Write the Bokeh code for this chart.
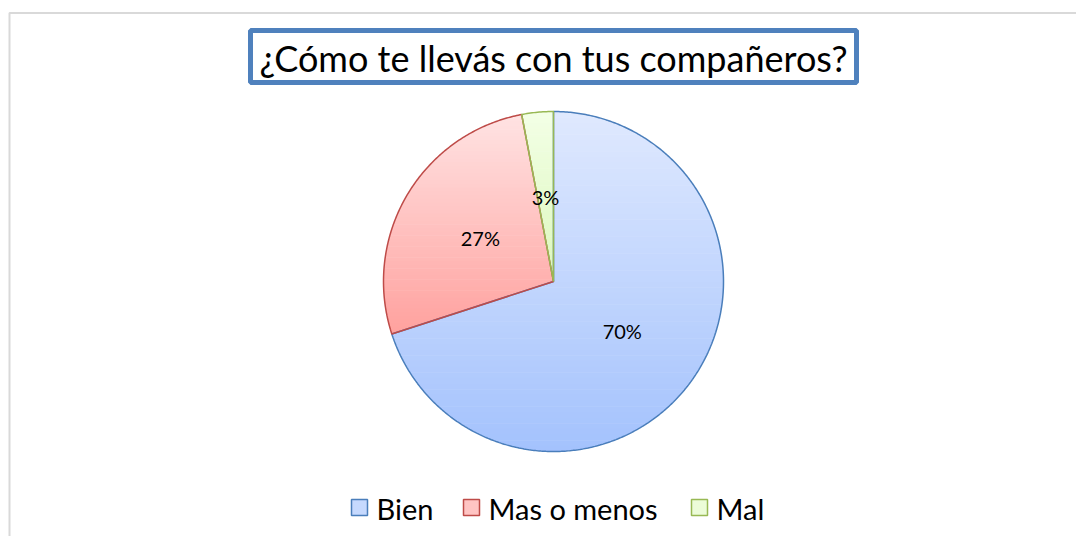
import math
from bokeh.plotting import figure
from bokeh.models import Range1d
from bokeh.core.properties import value
from bokeh.embed import file_html
from bokeh.resources import INLINE

# ---- data ----
categories = ["Bien", "Mas o menos", "Mal"]
percentages = [70, 27, 3]
labels = ["70%", "27%", "3%"]
title_text = "¿Cómo te llevás con tus compañeros?"

# ---- styles ----
top_colors = ["#dfe9fe", "#ffe3e3", "#f3ffe6"]
bottom_colors = ["#a4c2fd", "#ffa19e", "#dcf8bc"]
line_colors = ["#4a7ebb", "#be4b48", "#98b954"]
legend_fill = ["#c6d9fe", "#ffc4c3", "#ecfcd8"]
FONT = "Lato"

W, H = 1076, 536
p = figure(width=W, height=H, output_backend="svg", toolbar_location=None,
           x_range=Range1d(0, W), y_range=Range1d(H, 0),
           min_border=0, outline_line_color=None)
p.axis.visible = False
p.grid.visible = False
p.background_fill_color = "white"
p.border_fill_color = "white"

# chart area frame (light gray)
p.line(x=[9, 9, 1090], y=[560, 12.5, 12.5], line_color="#d9d9d9", line_width=2)

# ---- pie geometry ----
cx, cy, r = 553, 281, 170
total = sum(percentages)


def pt(theta, rad):
    return cx + rad * math.sin(theta), cy - rad * math.cos(theta)


def clip(poly, y0, y1):
    def clip_edge(poly, keep, inter):
        out = []
        n = len(poly)
        for i in range(n):
            a, b = poly[i], poly[(i + 1) % n]
            ka, kb = keep(a), keep(b)
            if ka:
                out.append(a)
            if ka != kb:
                out.append(inter(a, b))
        return out

    def iy(yc):
        def f(a, b):
            t = (yc - a[1]) / (b[1] - a[1])
            return (a[0] + t * (b[0] - a[0]), yc)
        return f

    poly = clip_edge(poly, lambda q: q[1] >= y0, iy(y0))
    if not poly:
        return poly
    poly = clip_edge(poly, lambda q: q[1] <= y1, iy(y1))
    return poly


def hex2rgb(h):
    h = h.lstrip("#")
    return tuple(int(h[i:i + 2], 16) for i in (0, 2, 4))


def mix(c1, c2, t):
    a, b = hex2rgb(c1), hex2rgb(c2)
    return "#%02x%02x%02x" % tuple(int(round(a[i] + (b[i] - a[i]) * t)) for i in range(3))


start = 0.0
wedge_polys = []
label_pos = []
for i, v in enumerate(percentages):
    span = 2 * math.pi * v / total
    n = max(4, int(span / 0.01))
    poly = [(cx, cy)] + [pt(start + span * k / n, r) for k in range(n + 1)]
    wedge_polys.append(poly)
    mid = start + span / 2
    label_pos.append(pt(mid, r * 0.5))
    start += span

# gradient fills (horizontal bands per wedge)
for i, poly in enumerate(wedge_polys):
    ys = [q[1] for q in poly]
    ymin, ymax = min(ys), max(ys)
    nb = 60
    xs_list, ys_list, cols = [], [], []
    for b in range(nb):
        y0 = ymin + (ymax - ymin) * b / nb
        y1 = ymin + (ymax - ymin) * (b + 1) / nb + 0.6
        part = clip(poly, y0, y1)
        if len(part) < 3:
            continue
        xs_list.append([q[0] for q in part])
        ys_list.append([q[1] for q in part])
        cols.append(mix(top_colors[i], bottom_colors[i], (b + 0.5) / nb))
    p.patches(xs=xs_list, ys=ys_list, fill_color=cols, line_color=None)

# wedge outlines
for i, poly in enumerate(wedge_polys):
    p.patch(x=[q[0] for q in poly] + [poly[0][0]], y=[q[1] for q in poly] + [poly[0][1]],
            fill_color=None, line_color=line_colors[i], line_width=1.5)

# data labels
p.text(x=[q[0] for q in label_pos], y=[q[1] for q in label_pos], text=labels,
       text_font=value(FONT), text_font_size="20px", text_color="black",
       text_align="center", text_baseline="middle")

# ---- title box ----
p.rect(x=[553], y=[56], width=606, height=52, fill_color="white",
       line_color="#4f81bd", line_width=5)
p.text(x=[553], y=[57], text=[title_text], text_font=value(FONT),
       text_font_size="36px", text_color="black", text_align="center",
       text_baseline="middle")

# ---- legend ----
sq_x = [359, 471, 699]
tx_x = [376, 488, 716]
p.rect(x=sq_x, y=[507] * 3, width=16, height=16, fill_color=legend_fill,
       line_color=line_colors, line_width=1.5)
p.text(x=tx_x, y=[508] * 3, text=categories, text_font=value(FONT),
       text_font_size="29px", text_color="black", text_align="left",
       text_baseline="middle")

open("out.html", "w").write(file_html(p, INLINE))
